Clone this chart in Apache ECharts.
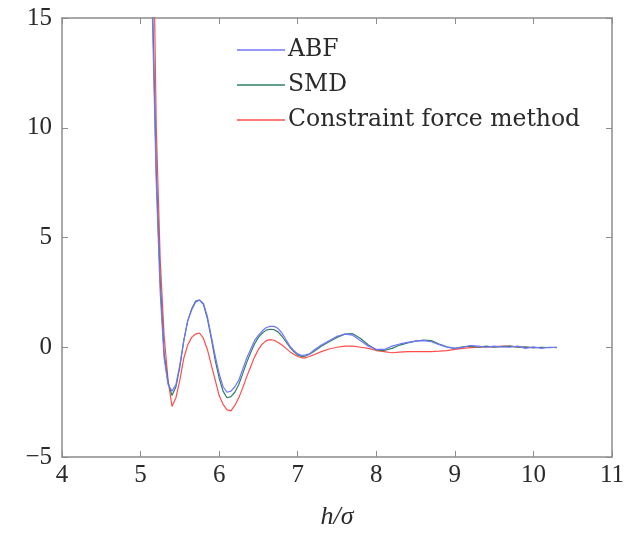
<!DOCTYPE html>
<html>
<head>
<meta charset="utf-8">
<script src="https://cdn.jsdelivr.net/npm/echarts@6/dist/echarts.min.js"></script>
<style>
html, body { margin: 0; padding: 0; background: #fff; }
#chart { width: 637px; height: 535px; }
</style>
</head>
<body>
<div id="chart"></div>
<script>
// h/sigma positions
const hValues = [5.10, 5.15, 5.20, 5.25, 5.30, 5.35, 5.40, 5.45, 5.50, 5.55, 5.60, 5.65, 5.70, 5.75, 5.80, 5.85, 5.90, 5.95,
  6.00, 6.05, 6.10, 6.15, 6.20, 6.25, 6.30, 6.35, 6.40, 6.45, 6.50, 6.55, 6.60, 6.65, 6.70, 6.75, 6.80, 6.85, 6.90, 6.95,
  7.00, 7.05, 7.10, 7.15, 7.20, 7.30, 7.40, 7.50, 7.60, 7.70, 7.80, 7.90, 8.00, 8.10, 8.20, 8.30, 8.40, 8.50, 8.60, 8.70,
  8.80, 8.90, 9.00, 9.10, 9.20, 9.30, 9.40, 9.50, 9.60, 9.70, 9.80, 9.90, 10.0, 10.1, 10.2, 10.3]

const abf = [30, 15.2, 7.5, 2.5, -0.5, -1.7, -2.0, -1.7, -0.8, 0.3, 1.2, 1.7, 2.05, 2.15, 2.0, 1.4, 0.5, -0.4,
  -1.2, -1.8, -2.05, -2.0, -1.8, -1.5, -1.0, -0.5, -0.1, 0.3, 0.55, 0.75, 0.9, 0.95, 0.95, 0.85, 0.65, 0.35, 0.05, -0.15,
  -0.3, -0.38, -0.35, -0.3, -0.15, 0.1, 0.3, 0.5, 0.6, 0.55, 0.3, 0.05, -0.1, -0.1, 0.05, 0.15, 0.22, 0.28, 0.3, 0.25,
  0.12, 0.0, -0.05, 0.0, 0.08, 0.05, 0.0, 0.05, 0.02, 0.0, 0.05, -0.05, 0.02, -0.05, 0.0, -0.02]

const smd = [30, 16, 8, 3, -0.3, -1.6, -2.2, -1.8, -0.9, 0.3, 1.2, 1.75, 2.1, 2.15, 1.95, 1.3, 0.4, -0.6,
  -1.4, -2.0, -2.3, -2.25, -2.05, -1.7, -1.2, -0.7, -0.25, 0.15, 0.45, 0.65, 0.78, 0.82, 0.8, 0.7, 0.5, 0.25, 0.0, -0.2,
  -0.35, -0.42, -0.4, -0.32, -0.2, 0.05, 0.25, 0.45, 0.6, 0.62, 0.4, 0.1, -0.12, -0.15, -0.05, 0.1, 0.2, 0.28, 0.33, 0.3,
  0.15, 0.02, -0.05, 0.02, 0.05, 0.0, 0.05, 0.0, 0.03, 0.05, 0.0, 0.02, -0.03, 0.0, -0.02, 0.0]

const constraint = [40, 22, 10, 4, 0.5, -1.5, -2.7, -2.3, -1.5, -0.5, 0.1, 0.45, 0.6, 0.65, 0.4, -0.1, -0.8, -1.5,
  -2.2, -2.6, -2.85, -2.9, -2.65, -2.3, -1.85, -1.35, -0.9, -0.45, -0.1, 0.15, 0.3, 0.35, 0.32, 0.22, 0.1, -0.05, -0.2, -0.32,
  -0.42, -0.48, -0.48, -0.42, -0.35, -0.2, -0.08, 0.0, 0.05, 0.05, 0.0, -0.05, -0.15, -0.2, -0.25, -0.22, -0.2, -0.2, -0.2, -0.2,
  -0.18, -0.15, -0.1, -0.05, -0.02, 0.0, 0.02, 0.02, 0.05, 0.05, 0.02, 0.0, -0.02, null, null, null]

const seriesNames = ['ABF', 'SMD', 'Constraint force method']
const seriesColors = ['#7373ff', '#2f7f62', '#ff4d4d']

const pairs = ys => hValues.map((h, i) => [h, ys[i]]).filter(p => p[1] !== null)

const numFont = 'Liberation Serif'
const textFont = 'DejaVu Serif'
const axisGray = '#8c8c8c'
const minusFmt = v => String(v).replace('-', '\u2212')

function draw() {
  let chart = echarts.init(document.getElementById('chart'))
  let option = {
    backgroundColor: '#FFFFFF',
    animation: false,
    textStyle: { fontFamily: numFont },
    grid: {
      left: 62,
      right: 25,
      top: 18,
      bottom: 77
    },
    legend: {
      orient: 'vertical',
      left: 237,
      top: 38,
      padding: 0,
      icon: 'rect',
      itemWidth: 48,
      itemHeight: 1.5,
      itemGap: 11,
      data: seriesNames,
      textStyle: {
        fontFamily: textFont,
        fontSize: 23.5,
        lineHeight: 24,
        color: '#2a2a2a',
        padding: [0, 0, 0, -2]
      }
    },
    xAxis: [{
      type: 'value',
      min: 4,
      max: 11,
      interval: 1,
      name: 'h/σ',
      nameLocation: 'middle',
      nameGap: 47,
      nameTextStyle: {
        fontFamily: numFont,
        fontStyle: 'italic',
        fontSize: 26,
        color: '#2a2a2a'
      },
      axisLine: { onZero: false, lineStyle: { color: axisGray, width: 1.5 } },
      axisTick: { inside: true, length: 6, lineStyle: { color: axisGray } },
      axisLabel: { fontFamily: numFont, fontSize: 25, color: '#2a2a2a', margin: 6 },
      splitLine: { show: false }
    }, {
      type: 'value',
      position: 'top',
      min: 4,
      max: 11,
      interval: 1,
      axisLine: { show: true, onZero: false, lineStyle: { color: axisGray, width: 1.5 } },
      axisTick: { inside: true, length: 6, lineStyle: { color: axisGray } },
      axisLabel: { show: false },
      splitLine: { show: false }
    }],
    yAxis: [{
      type: 'value',
      min: -5,
      max: 15,
      interval: 5,
      axisLine: { show: true, onZero: false, lineStyle: { color: axisGray, width: 1.5 } },
      axisTick: { show: true, inside: true, length: 6, lineStyle: { color: axisGray } },
      axisLabel: { fontFamily: numFont, fontSize: 25, color: '#2a2a2a', margin: 10, formatter: minusFmt },
      splitLine: { show: false }
    }, {
      type: 'value',
      position: 'right',
      min: -5,
      max: 15,
      interval: 5,
      axisLine: { show: true, onZero: false, lineStyle: { color: axisGray, width: 1.5 } },
      axisTick: { show: true, inside: true, length: 6, lineStyle: { color: axisGray } },
      axisLabel: { show: false },
      splitLine: { show: false }
    }],
    series: seriesNames.map((name, k) => ({
      name: name,
      type: 'line',
      symbol: 'none',
      clip: true,
      data: pairs([abf, smd, constraint][k]),
      itemStyle: { color: seriesColors[k] },
      lineStyle: { color: seriesColors[k], width: 1.2 },
      z: 3 - k
    }))
  }
  chart.setOption(option)
  window.addEventListener('resize', function() {
    chart.resize()
  })
}

Promise.all([
  document.fonts.load('25px "Liberation Serif"'),
  document.fonts.load('italic 26px "Liberation Serif"'),
  document.fonts.load('23px "DejaVu Serif"')
]).then(draw, draw)
</script>
</body>
</html>
